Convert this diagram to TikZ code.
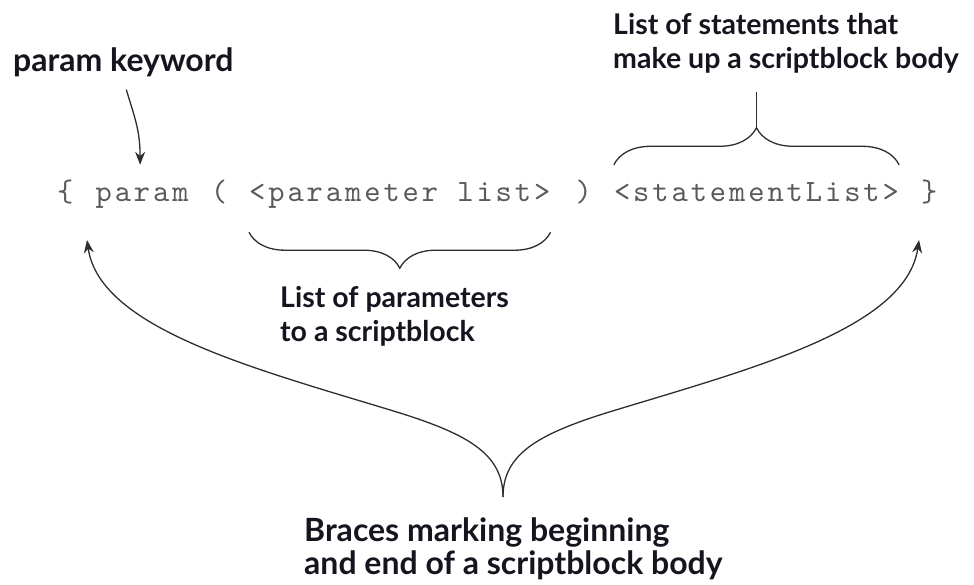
\documentclass[tikz,border=0pt]{standalone}
\usepackage{fontspec}
\newfontfamily\lblfont{Lato}
\newfontfamily\codefont{lmmono10-regular}[Extension=.otf, LetterSpace=9.4]
\usetikzlibrary{decorations.pathreplacing,arrows.meta,calc}
\definecolor{codegray}{HTML}{5A5A5A}
\definecolor{lblink}{HTML}{15151F}
\definecolor{lineink}{HTML}{2E2E2E}
\begin{document}
\begin{tikzpicture}[x=1pt,y=-1pt,
  lbl/.style={font=\lblfont\bfseries\fontsize{32}{33}\selectfont, text=lblink, align=left, inner sep=0pt},
  lblsmall/.style={font=\lblfont\bfseries\fontsize{28.5}{34}\selectfont, text=lblink, align=left, inner sep=0pt},
  code/.style={font=\codefont\fontsize{31}{34}\selectfont, text=codegray, inner sep=0pt, anchor=base west, text height=24pt, text depth=7pt},
  conn/.style={draw=lineink, line width=1.3pt},
  tip/.style={-{Stealth[length=13pt,width=10pt]}},
  bracedeco/.style={decorate, decoration={brace, amplitude=#1}}
]
\useasboundingbox (0,0) rectangle (974,585);
% code tokens (monospace cells of 19.2pt)
\node[code] (lb)    at (57,202) {\{};
\node[code] (param) at (95.4,202) {param};
\node[code] (lp)    at (210.6,202) {(};
\node[code] (plist) at (249,202) {<parameter list>};
\node[code] (rp)    at (575.4,202) {)};
\node[code] (stl)   at (613.8,202) {<statementList>};
\node[code] (rb)    at (921,202) {\}};
% labels
\node[lbl, anchor=base west] (pk) at (13,72) {param keyword};
\node[lblsmall, anchor=north west] (stm) at (613,13) {List of statements that\\make up a scriptblock body};
\node[lblsmall, anchor=north west] (plab) at (280,286) {List of parameters\\to a scriptblock};
\node[lbl, anchor=north west] (blab) at (304,518) {Braces marking beginning\\and end of a scriptblock body};
% braces
\draw[conn, bracedeco=36pt] ([yshift=-23pt]plist.south east) -- ([yshift=-23pt]plist.south west);
\draw[conn, bracedeco=37pt] ([yshift=13pt]stl.north west) -- ([yshift=13pt]stl.north east);
\coordinate (stcusp) at ($(stl.north west)!0.5!(stl.north east)+(0pt,50pt)$);
\draw[conn] (stcusp) -- (stcusp |- 0,92);
% param keyword arrow
\coordinate (kwstart) at ([xshift=3pt,yshift=-12pt]pk.south);
\coordinate (kwtip) at ([xshift=-2pt,yshift=13pt]param.north);
\draw[conn, tip] (kwstart) .. controls ($(kwstart)+(8,27)$) and ($(kwtip)+(0,-35)$) .. (kwtip);
% big brace arrows
\coordinate (cusp) at (503,497);
\coordinate (ltip) at (87,240);
\coordinate (rtip) at (919,240);
\draw[conn, tip] (cusp) .. controls (503,455) and (470,435) .. (400,413)
   .. controls (260,370) and (100,330) .. (ltip);
\draw[conn, tip] (cusp) .. controls (503,455) and (536,435) .. (606,413)
   .. controls (746,370) and (906,330) .. (rtip);
\end{tikzpicture}
\end{document}
